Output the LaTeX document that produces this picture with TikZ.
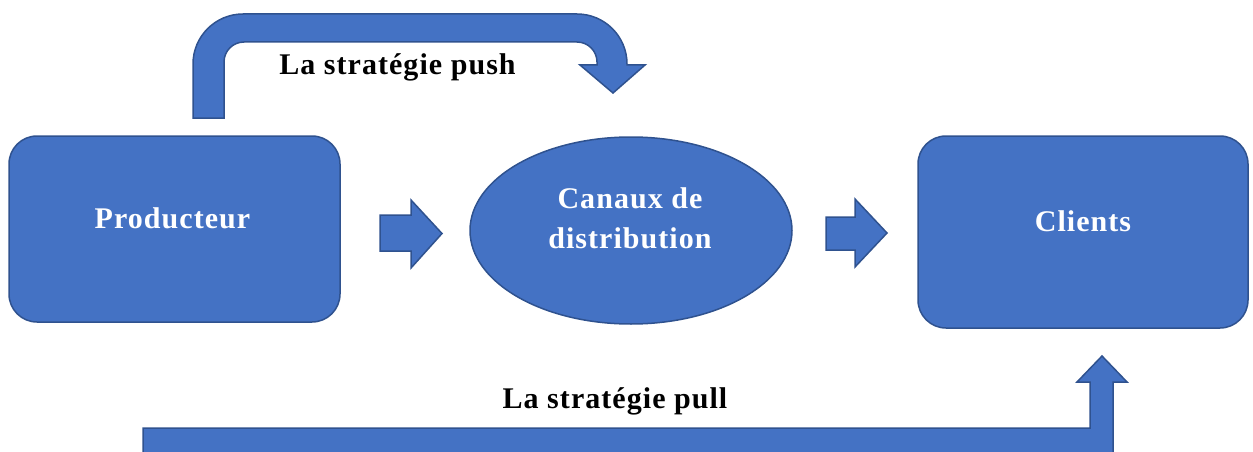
\documentclass[tikz,border=0pt]{standalone}
\usepackage{fontspec}
\setmainfont{Liberation Serif}
\newfontfamily\spacedserif[LetterSpace=3.5]{Liberation Serif}
\usetikzlibrary{shapes.geometric}
\definecolor{boxfill}{HTML}{4472C4}
\definecolor{boxline}{HTML}{2F528F}
\tikzset{
  shapestyle/.style={fill=boxfill, draw=boxline, line width=1.5pt},
  roundbox/.style={shapestyle, rectangle, rounded corners=28pt, inner sep=0pt},
  wlbl/.style={text=white, font=\spacedserif\fontsize{30}{36}\selectfont\bfseries, anchor=base, inner sep=0pt},
  blbl/.style={text=black, font=\spacedserif\fontsize{30}{36}\selectfont\bfseries, anchor=base, inner sep=0pt},
}
\begin{document}
\begin{tikzpicture}[x=1pt,y=1pt]
\useasboundingbox (0,0) rectangle (1253,451);
\clip (0,0) rectangle (1253,451);
% boxes
\node[roundbox, minimum width=331pt, minimum height=186pt] (prod) at (174.5,222) {};
\node[roundbox, minimum width=330pt, minimum height=192pt] (cli) at (1083,219) {};
\node[shapestyle, ellipse, minimum width=322pt, minimum height=187pt, inner sep=0pt] (can) at (631,220.5) {};
% labels
\node[wlbl] (tprod) at ([xshift=-2pt,yshift=1pt]prod.center) {Producteur};
\node[wlbl] (tcli) at ([yshift=1pt]cli.center) {Clients};
\node[wlbl] (tcan1) at ([xshift=-1pt,yshift=22.5pt]can.center) {Canaux de};
\node[wlbl] (tcan2) at ([xshift=-1pt,yshift=-17.5pt]can.center) {distribution};
% block arrows between nodes
\draw[shapestyle] (380,236) -- (411,236) -- (411,251) -- (442,217.5) -- (411,183) -- (411,200) -- (380,200) -- cycle;
\draw[shapestyle] (826,234) -- (855,234) -- (855,252) -- (887,218) -- (855,184) -- (855,201) -- (826,201) -- cycle;
% push arrow
\draw[shapestyle] (193,333) -- (193,387) arc(180:90:50) -- (577,437) arc(90:0:50) -- (627,386)
  -- (645,386) -- (613,358) -- (580,386) -- (597,386) -- (597,389) arc(0:90:20) -- (244,409)
  arc(90:180:20) -- (224,333) -- cycle;
\node[blbl] (push) at (397.5,377) {La stratégie push};
% pull arrow
\draw[shapestyle] (143,23) -- (1090,23) -- (1090,69) -- (1077,69) -- (1102,95) -- (1127,69)
  -- (1113,69) -- (1113,-10) -- (143,-10) -- cycle;
\node[blbl] (pull) at (615,43) {La stratégie pull};
\end{tikzpicture}
\end{document}
